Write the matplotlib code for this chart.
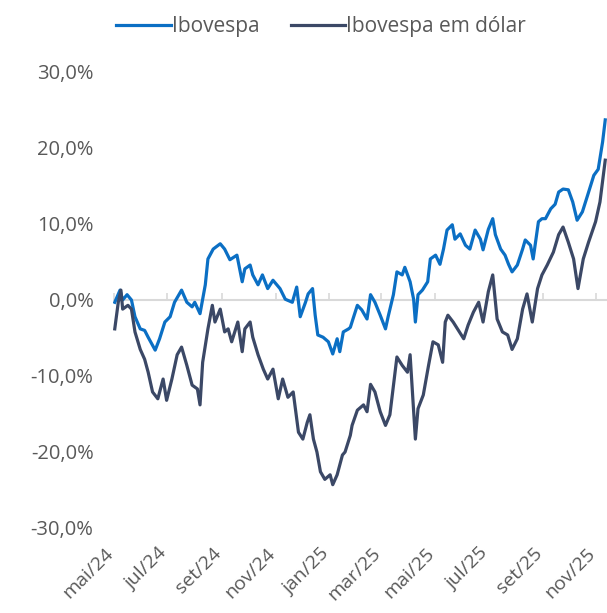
import pandas as pd
import matplotlib.pyplot as plt
from matplotlib.ticker import FuncFormatter

# valores (% acumulado)
ibov_dates = ['2024-05-02', '2024-05-08', '2024-05-11', '2024-05-16', '2024-05-21', '2024-05-25',
              '2024-05-31', '2024-06-05', '2024-06-09', '2024-06-17', '2024-06-22', '2024-06-28',
              '2024-07-04', '2024-07-09', '2024-07-17', '2024-07-23', '2024-07-29', '2024-08-01',
              '2024-08-07', '2024-08-13', '2024-08-16', '2024-08-22', '2024-08-30', '2024-09-04',
              '2024-09-10', '2024-09-18', '2024-09-24', '2024-09-27', '2024-10-03', '2024-10-06',
              '2024-10-12', '2024-10-17', '2024-10-23', '2024-10-29', '2024-11-06', '2024-11-12',
              '2024-11-20', '2024-11-25', '2024-11-29', '2024-12-05', '2024-12-08', '2024-12-13',
              '2024-12-16', '2024-12-19', '2024-12-25', '2024-12-31', '2025-01-05', '2025-01-10',
              '2025-01-13', '2025-01-17', '2025-01-23', '2025-01-25', '2025-01-28', '2025-02-02',
              '2025-02-07', '2025-02-13', '2025-02-17', '2025-02-22', '2025-02-28', '2025-03-06',
              '2025-03-09', '2025-03-15', '2025-03-19', '2025-03-25', '2025-03-28', '2025-04-03',
              '2025-04-07', '2025-04-09', '2025-04-12', '2025-04-17', '2025-04-23', '2025-04-26',
              '2025-05-02', '2025-05-07', '2025-05-11', '2025-05-15', '2025-05-21', '2025-05-24',
              '2025-05-30', '2025-06-05', '2025-06-10', '2025-06-16', '2025-06-22', '2025-06-25',
              '2025-07-01', '2025-07-06', '2025-07-09', '2025-07-15', '2025-07-20', '2025-07-24',
              '2025-07-28', '2025-08-03', '2025-08-09', '2025-08-12', '2025-08-18', '2025-08-21',
              '2025-08-27', '2025-08-31', '2025-09-04', '2025-09-10', '2025-09-15', '2025-09-19',
              '2025-09-24', '2025-09-30', '2025-10-05', '2025-10-10', '2025-10-16', '2025-10-22',
              '2025-10-29', '2025-11-03', '2025-11-08', '2025-11-11']
ibov = [-0.3, 1.3, 0.0, 0.7, 0.0, -2.2,
        -3.8, -4.0, -4.9, -6.6, -5.1, -2.9,
        -2.2, -0.3, 1.3, -0.3, -0.9, -0.3,
        -1.8, 2.0, 5.4, 6.7, 7.4, 6.7,
        5.3, 5.9, 2.4, 4.1, 4.6, 3.3,
        2.0, 3.3, 1.5, 2.6, 1.5, 0.1,
        -0.3, 1.7, -2.2, -0.3, 0.8, 1.5,
        -2.0, -4.6, -4.9, -5.5, -7.1, -5.1,
        -6.8, -4.2, -3.8, -3.6, -2.5, -0.7,
        -1.3, -2.5, 0.7, -0.3, -2.0, -3.8,
        -2.2, 0.7, 3.7, 3.3, 4.3, 2.4,
        0.1, -2.9, 0.7, 1.3, 2.4, 5.4,
        5.9, 4.7, 6.7, 9.2, 9.9, 8.0,
        8.7, 7.2, 6.7, 9.2, 8.0, 6.6,
        9.3, 10.7, 8.6, 6.7, 5.9, 4.7,
        3.7, 4.6, 6.7, 7.9, 7.2, 5.4,
        10.3, 10.7, 10.7, 12.0, 12.6, 14.2,
        14.6, 14.5, 12.9, 10.5, 11.6, 13.8,
        16.4, 17.2, 20.8, 23.7]

usd_dates = ['2024-05-02', '2024-05-06', '2024-05-09', '2024-05-11', '2024-05-17', '2024-05-21',
             '2024-05-25', '2024-05-31', '2024-06-05', '2024-06-09', '2024-06-14', '2024-06-20',
             '2024-06-26', '2024-06-30', '2024-07-06', '2024-07-12', '2024-07-17', '2024-07-23',
             '2024-07-29', '2024-08-04', '2024-08-07', '2024-08-10', '2024-08-16', '2024-08-21',
             '2024-08-24', '2024-08-30', '2024-09-04', '2024-09-08', '2024-09-12', '2024-09-19',
             '2024-09-24', '2024-09-27', '2024-10-03', '2024-10-06', '2024-10-12', '2024-10-18',
             '2024-10-23', '2024-10-29', '2024-11-04', '2024-11-09', '2024-11-15', '2024-11-21',
             '2024-11-27', '2024-12-02', '2024-12-07', '2024-12-10', '2024-12-14', '2024-12-18',
             '2024-12-22', '2024-12-27', '2025-01-02', '2025-01-05', '2025-01-10', '2025-01-16',
             '2025-01-19', '2025-01-25', '2025-01-27', '2025-02-02', '2025-02-09', '2025-02-13',
             '2025-02-17', '2025-02-22', '2025-02-28', '2025-03-06', '2025-03-11', '2025-03-19',
             '2025-03-25', '2025-03-31', '2025-04-03', '2025-04-09', '2025-04-12', '2025-04-18',
             '2025-04-24', '2025-04-29', '2025-05-05', '2025-05-10', '2025-05-13', '2025-05-16',
             '2025-05-22', '2025-05-28', '2025-06-03', '2025-06-08', '2025-06-14', '2025-06-20',
             '2025-06-25', '2025-07-01', '2025-07-06', '2025-07-11', '2025-07-17', '2025-07-23',
             '2025-07-28', '2025-08-03', '2025-08-09', '2025-08-14', '2025-08-20', '2025-08-26',
             '2025-08-31', '2025-09-06', '2025-09-13', '2025-09-19', '2025-09-24', '2025-09-30',
             '2025-10-06', '2025-10-11', '2025-10-17', '2025-10-23', '2025-10-31', '2025-11-05',
             '2025-11-11']
ibov_usd = [-3.8, -0.3, 1.3, -1.2, -0.7, -1.2,
            -4.2, -6.5, -7.8, -9.5, -12.1, -13.0,
            -10.4, -13.2, -10.4, -7.2, -6.2, -8.6,
            -11.2, -11.7, -13.8, -8.2, -3.8, -0.7,
            -2.9, -1.2, -4.2, -3.8, -5.5, -2.9,
            -6.8, -3.8, -2.9, -4.9, -7.2, -9.1,
            -10.4, -9.1, -13.0, -10.4, -12.8, -12.1,
            -17.4, -18.3, -16.1, -15.1, -18.3, -20.0,
            -22.6, -23.6, -23.0, -24.3, -23.0, -20.4,
            -20.0, -17.8, -16.5, -14.5, -13.8, -14.7,
            -11.1, -12.1, -14.7, -16.5, -15.1, -7.5,
            -8.6, -9.5, -7.2, -18.3, -14.3, -12.5,
            -8.6, -5.5, -5.9, -8.2, -2.9, -2.0,
            -2.9, -4.0, -5.1, -3.3, -1.6, -0.3,
            -2.9, 1.1, 3.3, -2.5, -4.2, -4.6,
            -6.5, -5.1, -1.2, 0.8, -2.9, 1.5,
            3.3, 4.6, 6.3, 8.6, 9.6, 7.6,
            5.4, 1.5, 5.4, 7.6, 10.3, 12.9,
            18.4]

tick_dates = ['2024-05-01', '2024-07-01', '2024-09-01', '2024-11-01', '2025-01-01',
              '2025-03-01', '2025-05-01', '2025-07-01', '2025-09-01', '2025-11-01']
tick_labels = ['mai/24', 'jul/24', 'set/24', 'nov/24', 'jan/25',
               'mar/25', 'mai/25', 'jul/25', 'set/25', 'nov/25']

plt.rcParams['font.family'] = ['Open Sans', 'DejaVu Sans']

blue = '#0b6fc4'
dark = '#3b4866'
grey = '#595959'
light = '#d9d9d9'

fig = plt.figure(figsize=(6.07, 6.13), dpi=100)
ax = fig.add_axes([113/607, 1 - 528/613, 494/607, 456/613])

ax.axhline(0, color=light, lw=1.5, zorder=1)
ax.plot(pd.to_datetime(ibov_dates), ibov, color=blue, lw=2.3, label='Ibovespa', zorder=3)
ax.plot(pd.to_datetime(usd_dates), ibov_usd, color=dark, lw=2.3, label='Ibovespa em dólar', zorder=3)

ax.set_ylim(-30, 30)
ax.set_xlim(pd.Timestamp('2024-04-30'), pd.Timestamp('2025-11-13'))
ax.set_yticks([-30, -20, -10, 0, 10, 20, 30])
ax.yaxis.set_major_formatter(FuncFormatter(lambda v, p: f'{v:.1f}%'.replace('.', ',')))

ticks = pd.to_datetime(tick_dates)
ax.set_xticks(ticks)
ax.set_xticklabels(tick_labels, rotation=45, ha='right', va='baseline', rotation_mode='anchor')

for s in ax.spines.values():
    s.set_visible(False)
ax.tick_params(axis='both', length=0, colors=grey, labelsize=14.5)
ax.tick_params(axis='y', pad=14)
ax.tick_params(axis='x', pad=19, labelsize=14)

# marcas na linha do zero
zero = ax.secondary_xaxis(0.5)
zero.set_xticks(ticks)
zero.set_xticklabels([])
for s in zero.spines.values():
    s.set_visible(False)
zero.tick_params(axis='x', length=5, width=1.2, color=light, direction='out')

fig.legend(loc='upper left', bbox_to_anchor=(106/607, 1 - 6/613), ncol=2, frameon=False,
           fontsize=15, handlelength=2.6, handletextpad=0.05, columnspacing=1.5,
           borderpad=0, labelcolor=grey)

plt.savefig('out.png', dpi=100)
